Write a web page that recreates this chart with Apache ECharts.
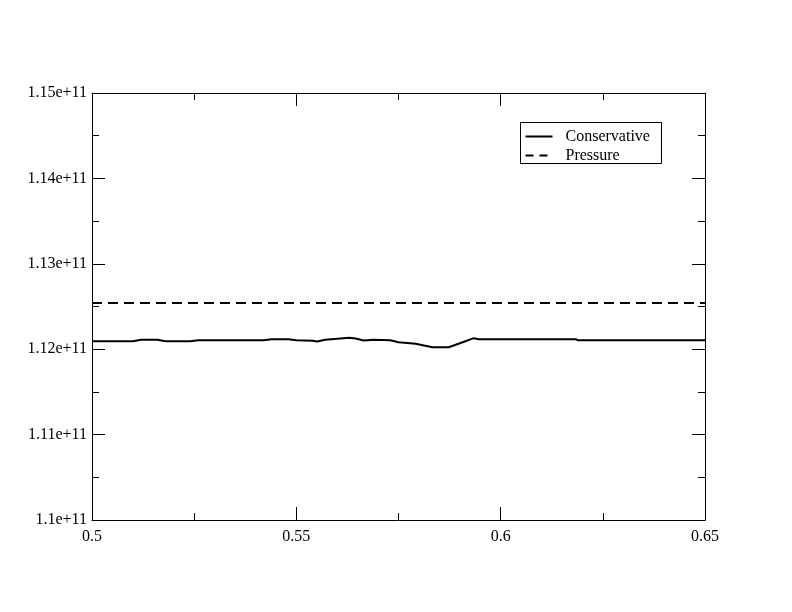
<!DOCTYPE html>
<html>
<head>
<meta charset="utf-8">
<script src="https://cdn.jsdelivr.net/npm/echarts@6/dist/echarts.min.js"></script>
<style>html,body{margin:0;padding:0;background:#fff;}#c{width:792px;height:612px;}</style>
</head>
<body>
<div id="c"></div>
<script>
// Data
var conservativeX = [0.500, 0.510, 0.512, 0.516, 0.518, 0.524, 0.526, 0.542, 0.544, 0.548, 0.550, 0.554, 0.5551, 0.557, 0.5608, 0.563, 0.5645, 0.5665, 0.5689, 0.5730, 0.5750, 0.5792, 0.5833, 0.5873, 0.5907, 0.5934, 0.5946, 0.6184, 0.6189, 0.650];
var conservativeY = [1.12094e11, 1.12094e11, 1.12110e11, 1.12110e11, 1.12094e11, 1.12094e11, 1.12105e11, 1.12105e11, 1.12117e11, 1.12117e11, 1.12105e11, 1.12100e11, 1.12090e11, 1.12110e11, 1.12125e11, 1.12133e11, 1.12125e11, 1.12102e11, 1.12110e11, 1.12105e11, 1.12082e11, 1.12063e11, 1.12023e11, 1.12023e11, 1.12082e11, 1.12129e11, 1.12117e11, 1.12117e11, 1.12105e11, 1.12105e11];
var pressureX = [0.500, 0.650];
var pressureY = [1.12540e11, 1.12540e11];
var seriesNames = ["Conservative", "Pressure"];
var xTicks = {min: 0.5, max: 0.65, interval: 0.05};
var yTicks = {min: 1.10e11, max: 1.15e11, interval: 1e9};

function zip(xs, ys) { return xs.map(function (x, i) { return [x, ys[i]]; }); }
var font = "'Liberation Serif', 'DejaVu Serif', serif";
var dash = [10, 6];
function axisBase(pos, show) {
  return {
    type: 'value', position: pos,
    axisLine: {show: true, onZero: false, lineStyle: {color: '#000', width: 1}},
    axisTick: {show: true, inside: true, length: 13, lineStyle: {color: '#000', width: 1}},
    minorTick: {show: true, splitNumber: 2, length: 7, lineStyle: {color: '#000', width: 1}},
    splitLine: {show: false},
    axisLabel: {show: show, color: '#000', fontFamily: font, fontSize: 16}
  };
}
var xMain = Object.assign(axisBase('bottom', true), xTicks);
xMain.axisLabel.margin = 9;
xMain.axisLabel.formatter = function (v) { return String(parseFloat(v.toFixed(3))); };
var xTop = Object.assign(axisBase('top', false), xTicks);
var yMain = Object.assign(axisBase('left', true), yTicks);
yMain.axisLabel.margin = 5;
yMain.axisLabel.formatter = function (v) { return parseFloat((v / 1e11).toFixed(2)) + 'e+11'; };
var yRight = Object.assign(axisBase('right', false), yTicks);

// Legend drawn as graphic (box with line samples)
var legendGraphic = {
  type: 'group', left: 520, top: 122,
  children: [
    {type: 'rect', shape: {x: 0, y: 0, width: 141, height: 41}, style: {fill: '#fff', stroke: '#000', lineWidth: 1}},
    {type: 'line', shape: {x1: 5, y1: 14, x2: 32, y2: 14}, style: {stroke: '#000', lineWidth: 2}},
    {type: 'line', shape: {x1: 5, y1: 33, x2: 32, y2: 33}, style: {stroke: '#000', lineWidth: 2, lineDash: [8, 6]}},
    {type: 'text', x: 45, y: 14, style: {text: seriesNames[0], fill: '#000', font: '16px ' + font, textVerticalAlign: 'middle', verticalAlign: 'middle'}},
    {type: 'text', x: 45, y: 33, style: {text: seriesNames[1], fill: '#000', font: '16px ' + font, textVerticalAlign: 'middle', verticalAlign: 'middle'}}
  ]
};

var chart = echarts.init(document.getElementById('c'), null, {renderer: 'canvas'});
chart.setOption({
  animation: false,
  backgroundColor: '#fff',
  grid: {left: 92, right: 87, top: 93, bottom: 92, containLabel: false},
  xAxis: [xMain, xTop],
  yAxis: [yMain, yRight],
  graphic: [legendGraphic],
  series: [
    {name: seriesNames[0], type: 'line', data: zip(conservativeX, conservativeY), symbol: 'none',
     lineStyle: {color: '#000', width: 2, type: 'solid'}, itemStyle: {color: '#000'}},
    {name: seriesNames[1], type: 'line', data: zip(pressureX, pressureY), symbol: 'none',
     lineStyle: {color: '#000', width: 2, type: dash}, itemStyle: {color: '#000'}}
  ]
});
</script>
</body>
</html>
